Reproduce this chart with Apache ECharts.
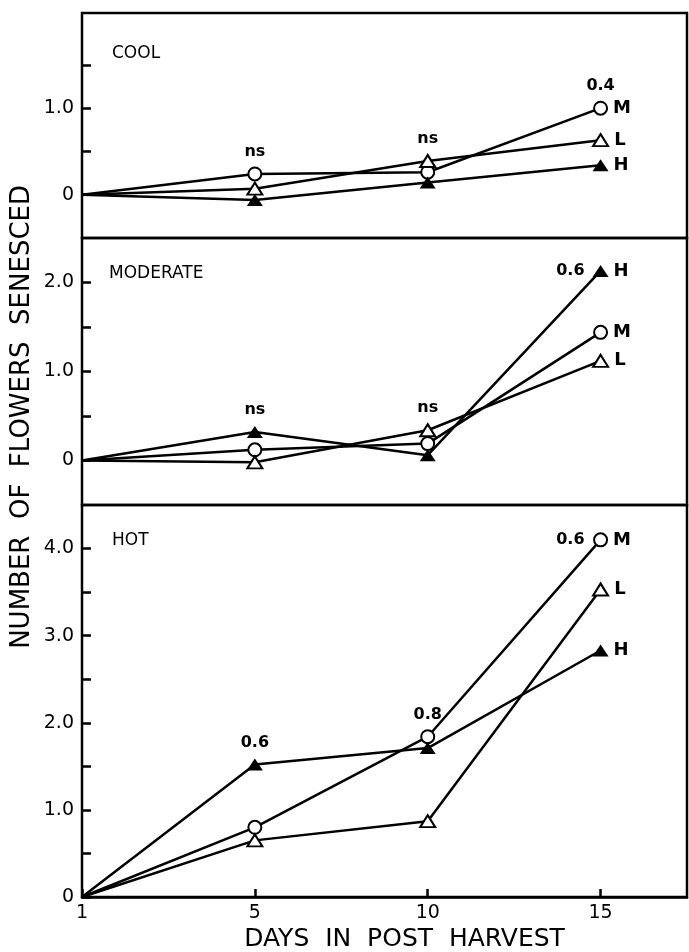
<!DOCTYPE html>
<html>
<head>
<meta charset="utf-8">
<script src="https://cdn.jsdelivr.net/npm/echarts@6/dist/echarts.min.js"></script>
<style>
  html, body { margin: 0; padding: 0; background: #fff; }
  #chart { width: 689px; height: 952px; }
</style>
</head>
<body>
<div id="chart"></div>
<script>
// days in post harvest; day 1 is drawn at the axis origin as in the figure
var dayLabels = ['1', '5', '10', '15'];
var dayPos = [0, 5, 10, 15];

// COOL
var coolM = [0, 0.24, 0.26, 1.00];
var coolL = [0, 0.07, 0.39, 0.63];
var coolH = [0, -0.06, 0.14, 0.34];
var coolSig = ['', 'ns', 'ns', '0.4'];

// MODERATE
var modM = [0, 0.12, 0.19, 1.44];
var modL = [0, -0.02, 0.34, 1.12];
var modH = [0, 0.32, 0.06, 2.13];
var modSig = ['', 'ns', 'ns', '0.6'];

// HOT
var hotM = [0, 0.80, 1.84, 4.10];
var hotL = [0, 0.65, 0.87, 3.53];
var hotH = [0, 1.52, 1.71, 2.83];
var hotSig = ['', '0.6', '0.8', '0.6'];

var FONT = 'DejaVu Sans';

var panels = [
  { title: 'COOL', M: coolM, L: coolL, H: coolH, sig: coolSig, lastSide: 'top',
    min: -0.5, max: 2.1, ticks: [0, 0.5, 1, 1.5], labels: [0, 1] },
  { title: 'MODERATE', M: modM, L: modL, H: modH, sig: modSig, lastSide: 'left',
    min: -0.5, max: 2.5, ticks: [0, 0.5, 1, 1.5, 2], labels: [0, 1, 2] },
  { title: 'HOT', M: hotM, L: hotL, H: hotH, sig: hotSig, lastSide: 'left',
    min: 0, max: 4.5, ticks: [0, 0.5, 1, 1.5, 2, 2.5, 3, 3.5, 4], labels: [0, 1, 2, 3, 4] }
];

var gridBoxes = [
  { top: 13, height: 225 },
  { top: 238, height: 267 },
  { top: 505, height: 392 }
];

var symbols = {
  M: { symbol: 'emptyCircle', size: 13 },
  L: { symbol: 'emptyTriangle', size: [15, 12] },
  H: { symbol: 'triangle', size: [16, 12] }
};

var chart = echarts.init(document.getElementById('chart'));

var grids = [], xAxes = [], yAxes = [], series = [], titles = [];

panels.forEach(function (p, gi) {
  grids.push({
    left: 82, right: 2, top: gridBoxes[gi].top, height: gridBoxes[gi].height,
    outerBoundsMode: 'none', containLabel: false,
    show: true, borderColor: '#000', borderWidth: 2.5, backgroundColor: 'transparent'
  });
  var last = gi === panels.length - 1;
  xAxes.push({
    gridIndex: gi, type: 'value', min: 0, max: 17.5,
    show: last,
    splitLine: { show: false },
    axisLine: { show: true, lineStyle: { color: '#000', width: 2.5 } },
    axisTick: { show: true, inside: true, length: 8, customValues: dayPos,
      lineStyle: { color: '#000', width: 2.5 } },
    axisLabel: { show: true, customValues: dayPos, margin: 7, color: '#000',
      fontFamily: FONT, fontSize: 19,
      formatter: function (v) { return dayLabels[dayPos.indexOf(v)]; } },
    name: last ? 'DAYS  IN  POST  HARVEST' : '',
    nameLocation: 'middle', nameGap: 30,
    nameTextStyle: { fontFamily: FONT, fontSize: 25, color: '#000', padding: [0, 0, 0, 40] }
  });
  yAxes.push({
    gridIndex: gi, type: 'value', min: p.min, max: p.max,
    splitLine: { show: false },
    axisLine: { show: false },
    axisTick: { show: true, inside: true, length: 9, customValues: p.ticks,
      lineStyle: { color: '#000', width: 2.5 } },
    axisLabel: { customValues: p.labels, margin: 8, color: '#000',
      fontFamily: FONT, fontSize: 19,
      formatter: function (v) { return v === 0 ? '0' : v.toFixed(1); } }
  });
  titles.push({
    text: p.title, left: gi === 1 ? 104 : 107, top: gridBoxes[gi].top + (gi === 0 ? 27 : 22),
    textStyle: { fontFamily: FONT, fontSize: 17, fontWeight: 'normal', color: '#000' }
  });

  ['M', 'L', 'H'].forEach(function (k) {
    var vals = p[k];
    var data = vals.map(function (v, i) {
      var item = { value: [dayPos[i], v] };
      if (i === 0) item.symbol = 'none';
      if (i === vals.length - 1) {
        item.label = { show: true, position: 'right', distance: 5, formatter: k,
          fontFamily: FONT, fontSize: 18, fontWeight: 'bold', color: '#000' };
      }
      return item;
    });
    series.push({
      type: 'line', name: p.title + ' ' + k,
      xAxisIndex: gi, yAxisIndex: gi,
      data: data,
      symbol: symbols[k].symbol, symbolSize: symbols[k].size,
      showAllSymbol: true,
      lineStyle: { color: '#000', width: 2.5 },
      itemStyle: { color: '#000', borderWidth: 2.5 },
      label: { show: false },
      animation: false, z: 3
    });
  });

  // significance text sits beside the uppermost marker of each day
  var sigData = [];
  p.sig.forEach(function (s, i) {
    if (!s) return;
    var top = Math.max(p.M[i], p.L[i], p.H[i]);
    var lastDay = i === p.sig.length - 1;
    var side = lastDay ? p.lastSide : 'top';
    sigData.push({
      value: [dayPos[i], top],
      label: { show: true, formatter: s, position: side, distance: side === 'top' ? 8 : 10,
        fontFamily: FONT, fontSize: 16, fontWeight: 'bold', color: '#000' }
    });
  });
  series.push({
    type: 'scatter', xAxisIndex: gi, yAxisIndex: gi,
    symbol: 'circle', symbolSize: 12,
    itemStyle: { color: '#fff', opacity: 1 },
    data: sigData, silent: true, animation: false, z: 2
  });
});

chart.setOption({
  backgroundColor: '#fff',
  animation: false,
  title: titles,
  grid: grids,
  xAxis: xAxes,
  yAxis: yAxes,
  series: series,
  graphic: [{
    type: 'text', left: 9, top: 185,
    rotation: Math.PI / 2,
    style: { text: 'NUMBER  OF  FLOWERS  SENESCED', fontFamily: FONT, fontSize: 26, fill: '#000' }
  }]
});
</script>
</body>
</html>
